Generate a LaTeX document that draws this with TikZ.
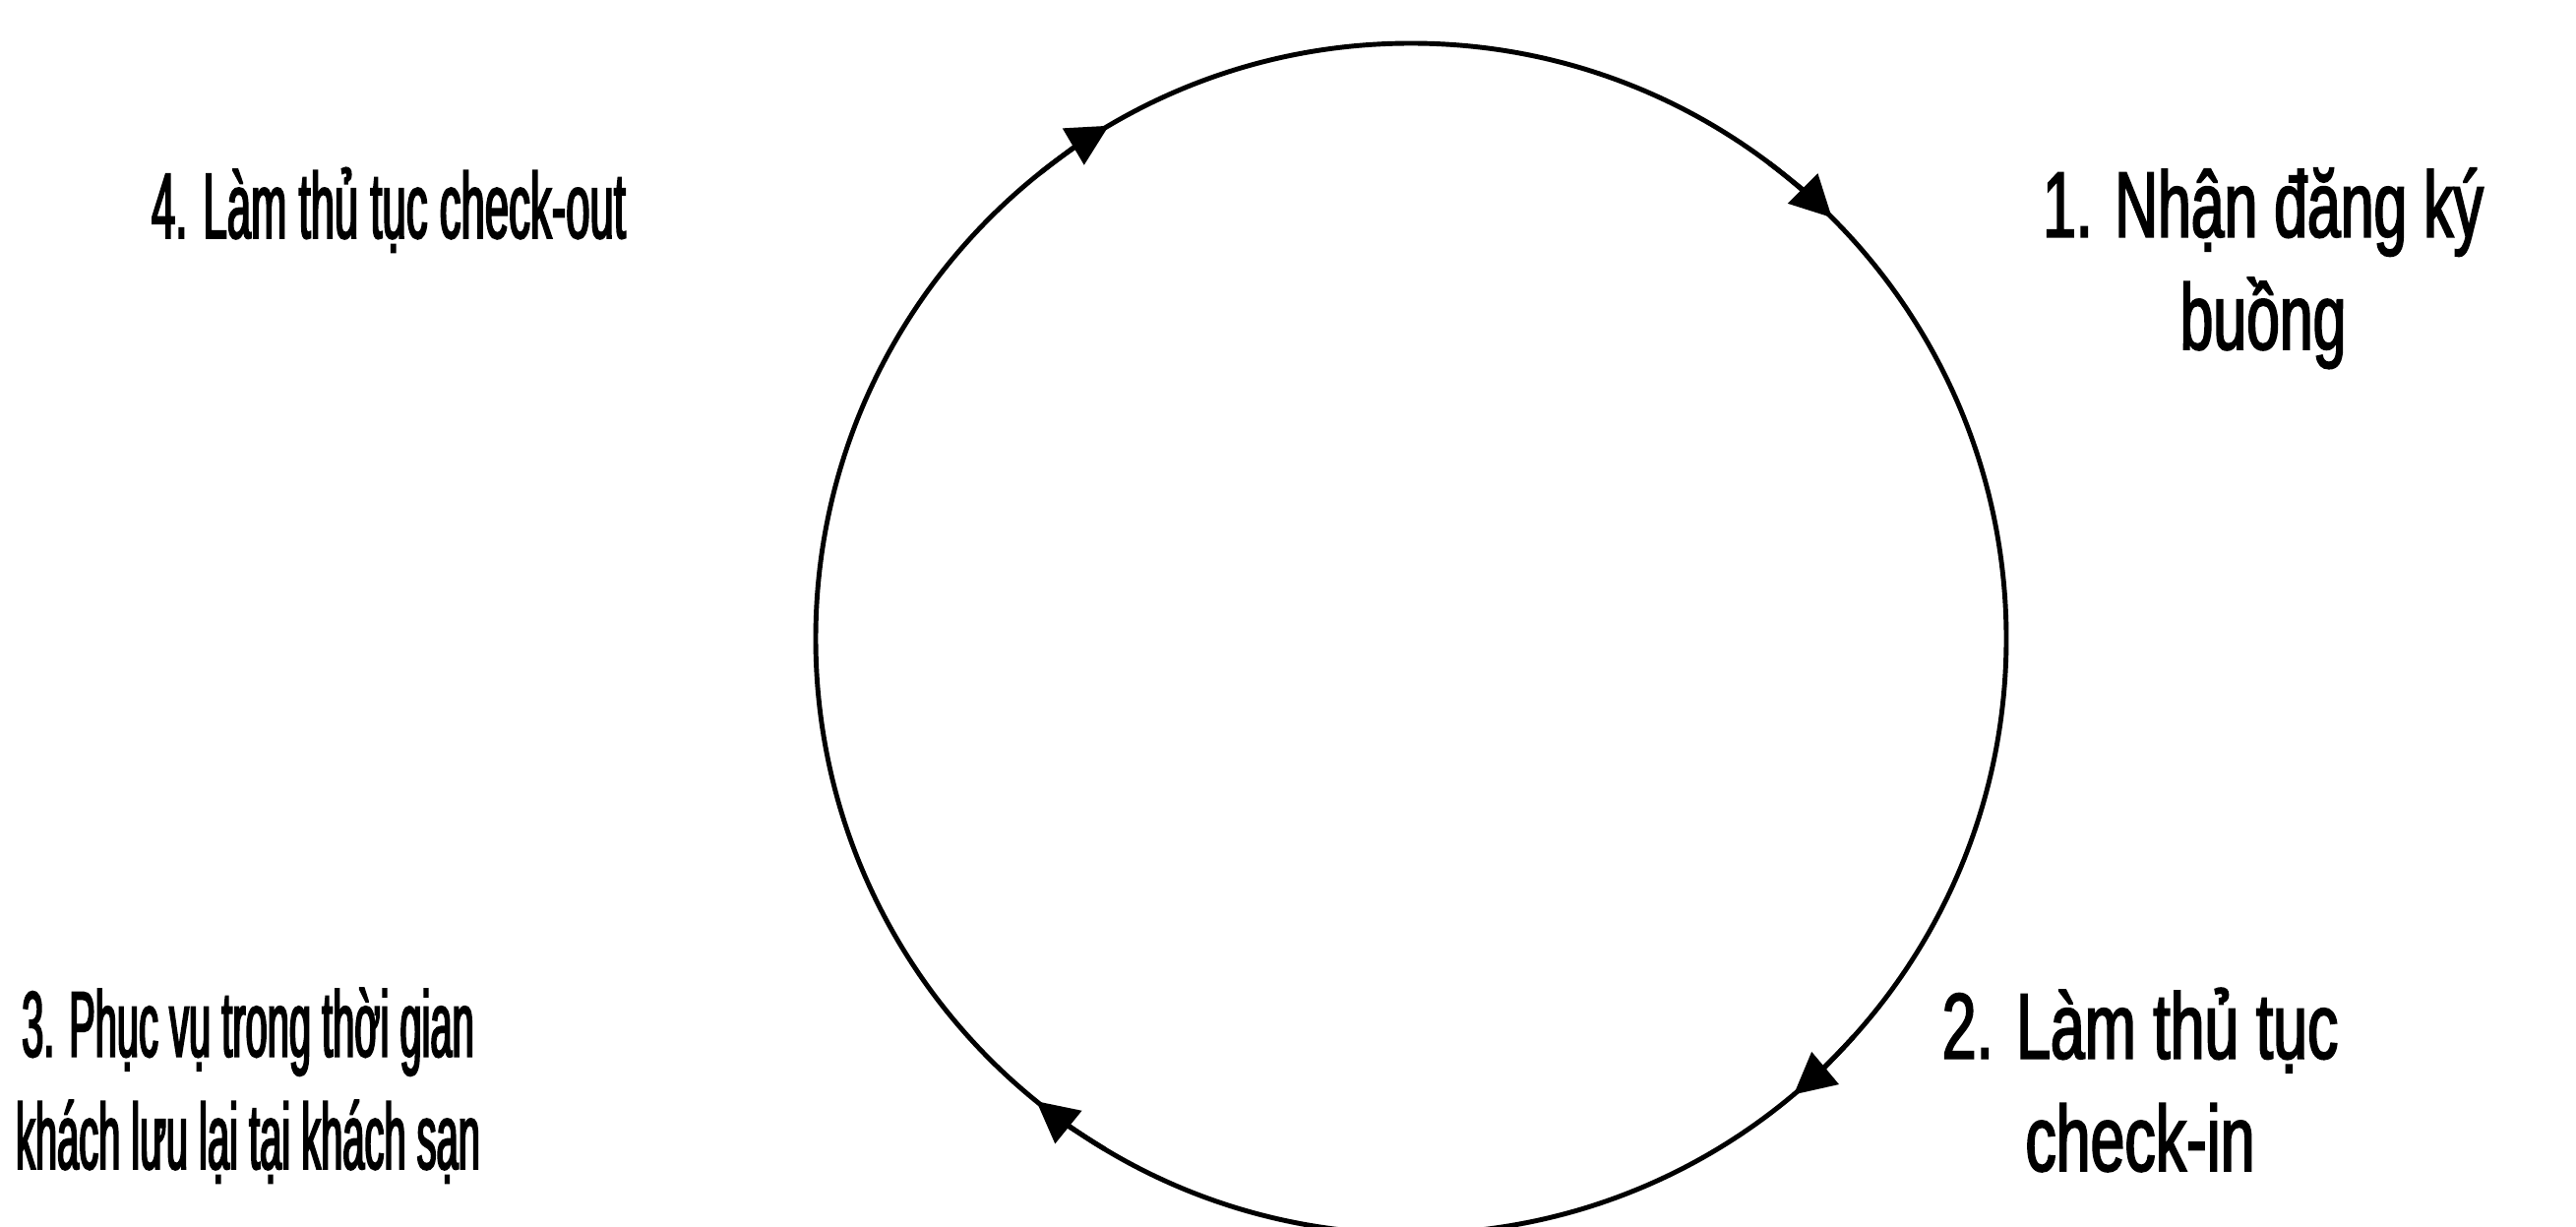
\documentclass[tikz,border=0pt]{standalone}
\usepackage{fontspec}
\setmainfont{Liberation Sans}
% each label is squeezed by its own amount
\newfontfamily\regfont[FakeStretch=0.64,FakeBold=1.9]{Liberation Sans}
\newfontfamily\cinfont[FakeStretch=0.66,FakeBold=1.9]{Liberation Sans}
\newfontfamily\stayfont[FakeStretch=0.42,FakeBold=1.9]{Liberation Sans}
\newfontfamily\coutfont[FakeStretch=0.46,FakeBold=1.9]{Liberation Sans}
\usetikzlibrary{arrows.meta}
\newcommand{\lblsize}{\fontsize{27pt}{32.5pt}\selectfont}

\begin{document}
\begin{tikzpicture}[
  font=\lblsize,
  lbl/.style={align=center,inner sep=0pt,anchor=base},
  ring/.style={line width=1.4pt},
  tip/.style={ring,-{Triangle[length=4.2mm,width=4.2mm]}}
]
\useasboundingbox (0,0) rectangle (26.18,12.46);
\coordinate (ctr) at (14.34,5.97);
% cycle
\draw[ring] (ctr) circle (6.05);
\foreach \a in {45,-50,231,120.5}
  \draw[tip] ([shift={(\a+8:6.05)}]ctr) arc (\a+8:\a:6.05);
% steps (base = last line)
\node[lbl,font=\lblsize\regfont] (reg) at (23.00,8.91) {1. Nhận đăng ký\\buồng};
\node[lbl,font=\lblsize\cinfont] (cin) at (21.75,0.56) {2. Làm thủ tục\\check-in};
\node[lbl,font=\lblsize\stayfont] (stay) at (2.52,0.58) {3. Phục vụ trong thời gian\\khách lưu lại tại khách sạn};
\node[lbl,font=\lblsize\coutfont] (cout) at (3.95,10.04) {4. Làm thủ tục check-out};
\end{tikzpicture}
\end{document}
